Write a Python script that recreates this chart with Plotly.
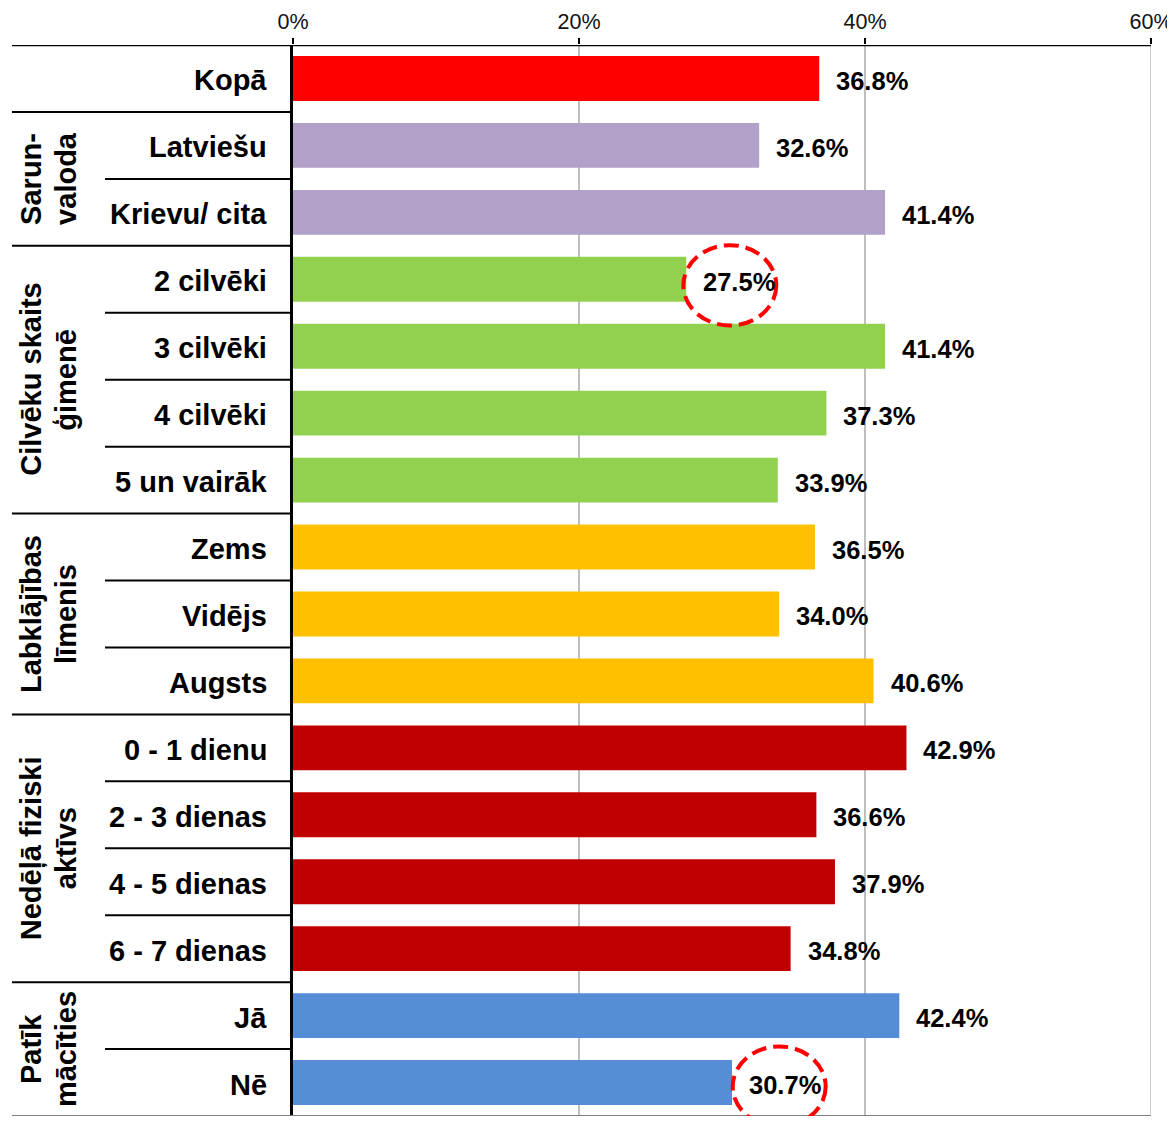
import plotly.graph_objects as go

# ---- data ----
categories = ["Kopā", "Latviešu", "Krievu/ cita", "2 cilvēki", "3 cilvēki", "4 cilvēki",
              "5 un vairāk", "Zems", "Vidējs", "Augsts", "0 - 1 dienu", "2 - 3 dienas",
              "4 - 5 dienas", "6 - 7 dienas", "Jā", "Nē"]
values = [36.8, 32.6, 41.4, 27.5, 41.4, 37.3, 33.9, 36.5, 34.0, 40.6, 42.9, 36.6,
          37.9, 34.8, 42.4, 30.7]
group_of = [None, "Sarunvaloda", "Sarunvaloda", "Cilvēku", "Cilvēku", "Cilvēku", "Cilvēku",
            "Labklājība", "Labklājība", "Labklājība", "Nedēļā", "Nedēļā", "Nedēļā", "Nedēļā",
            "Patīk", "Patīk"]
group_names = ["Sarunvaloda", "Cilvēku", "Labklājība", "Nedēļā", "Patīk"]
group_labels = ["Sarun-<br>valoda", "Cilvēku skaits<br>ģimenē", "Labklājības<br>līmenis",
                "Nedēļā fiziski<br>aktīvs", "Patīk<br>mācīties"]
highlighted = ["2 cilvēki", "Nē"]
x_ticks = [0, 20, 40, 60]
x_tick_labels = ["0%", "20%", "40%", "60%"]

# ---- styles ----
group_colors = {None: "#FF0000", "Sarunvaloda": "#B1A0C7", "Cilvēku": "#92D050",
                "Labklājība": "#FFC000", "Nedēļā": "#C00000", "Patīk": "#558ED5"}
ellipse_dx = [3.05, 3.3]    # ellipse centre offset from bar end (axis units)
FONT = "Liberation Sans, Arial, sans-serif"
OFF = 8                     # page body margin
W, H = 1175, 1125 - 2 * OFF
PLOT_LEFT_PAGE, PLOT_RIGHT_PAGE = 293, 1151
L = PLOT_LEFT_PAGE - OFF
R = W - (PLOT_RIGHT_PAGE - OFF)
T = 45 - OFF
B = H - (1116 - OFF)
plot_w = PLOT_RIGHT_PAGE - PLOT_LEFT_PAGE


def px_to_paper(page_px):
    return (page_px - PLOT_LEFT_PAGE) / plot_w


colors = [group_colors[g] for g in group_of]
n = len(categories)

fig = go.Figure()
fig.add_trace(go.Bar(
    x=values, y=categories, orientation="h",
    marker=dict(color=colors, line=dict(width=0)),
    width=0.67, hoverinfo="x+y", showlegend=False,
))

annotations = []
shapes = []

# right-edge gridline (plotly may drop the one on the range boundary)
shapes.append(dict(type="line", xref="x", yref="paper", x0=x_ticks[-1], x1=x_ticks[-1],
                   y0=0, y1=1, line=dict(color="#BFBFBF", width=1.5), layer="below"))

# data labels
for c, v in zip(categories, values):
    annotations.append(dict(x=v, y=c, xref="x", yref="y", text=f"<b>{v:.1f}%</b>",
                            showarrow=False, xanchor="left", yanchor="middle",
                            xshift=15, yshift=-2.5,
                            font=dict(family=FONT, size=25.5, color="black")))
# category labels
for c in categories:
    annotations.append(dict(x=0, y=c, xref="paper", yref="y", text=f"<b>{c}</b>",
                            showarrow=False, xanchor="right", yanchor="middle",
                            xshift=-24, yshift=-2,
                            font=dict(family=FONT, size=29, color="black")))
# group labels (two lines each, placed separately for tight line spacing)
line_x_page = [31, 66]
for gname, glabel in zip(group_names, group_labels):
    idx = [i for i, g in enumerate(group_of) if g == gname]
    mid = (idx[0] + idx[-1]) / 2
    for lx, part in zip(line_x_page, glabel.split("<br>")):
        annotations.append(dict(x=px_to_paper(lx), y=mid, xref="paper", yref="y",
                                text=f"<b>{part}</b>", showarrow=False, textangle=-90,
                                xanchor="center", yanchor="middle",
                                font=dict(family=FONT, size=29, color="black")))

# separators
x_far = px_to_paper(12)
x_near = px_to_paper(105)
for i in range(1, n):
    new_group = group_of[i] != group_of[i - 1]
    shapes.append(dict(type="line", xref="paper", yref="y", x0=x_far if new_group else x_near,
                       x1=0, y0=i - 0.5, y1=i - 0.5, line=dict(color="black", width=2),
                       layer="above"))
# top and bottom borders
shapes.append(dict(type="line", xref="paper", yref="y", x0=x_far, x1=1, y0=-0.5, y1=-0.5,
                   line=dict(color="black", width=2.5), layer="above"))
shapes.append(dict(type="line", xref="paper", yref="y", x0=x_far, x1=1, y0=n - 0.5, y1=n - 0.5,
                   line=dict(color="#808080", width=2), layer="above"))

# highlight ellipses
for c, dx in zip(highlighted, ellipse_dx):
    v = values[categories.index(c)]
    yi = categories.index(c)
    cx = v + dx
    dy = 0.09 if yi < n - 1 else 0.06
    shapes.append(dict(type="circle", xref="x", yref="y",
                       x0=cx - 3.25, x1=cx + 3.25, y0=yi - 0.6 + dy, y1=yi + 0.6 + dy,
                       line=dict(color="#FF0000", width=4, dash="15px,7px"),
                       fillcolor="rgba(0,0,0,0)", layer="above"))

fig.update_layout(
    width=W, height=H,
    margin=dict(l=L, r=R, t=T, b=B, pad=0, autoexpand=False),
    paper_bgcolor="white", plot_bgcolor="white",
    font=dict(family=FONT, color="black"),
    bargap=0.33,
    xaxis=dict(side="top", range=[0, 60], autorange=False, automargin=False,
               tickvals=x_ticks, ticktext=x_tick_labels, ticklabeloverflow="allow",
               showgrid=True, gridcolor="#BFBFBF", gridwidth=1.5, zeroline=False,
               showline=False, ticks="outside", ticklen=6, tickwidth=1.5, tickcolor="black",
               tickfont=dict(family=FONT, size=21.5, color="#111111"), fixedrange=True),
    yaxis=dict(categoryorder="array", categoryarray=categories, autorange=False,
               automargin=False, range=[n - 0.5, -0.5], showticklabels=False, ticks="",
               showgrid=False, zeroline=False, showline=True, linecolor="black",
               linewidth=2.5, fixedrange=True),
    annotations=annotations,
    shapes=shapes,
)

fig.write_html("out.html")
